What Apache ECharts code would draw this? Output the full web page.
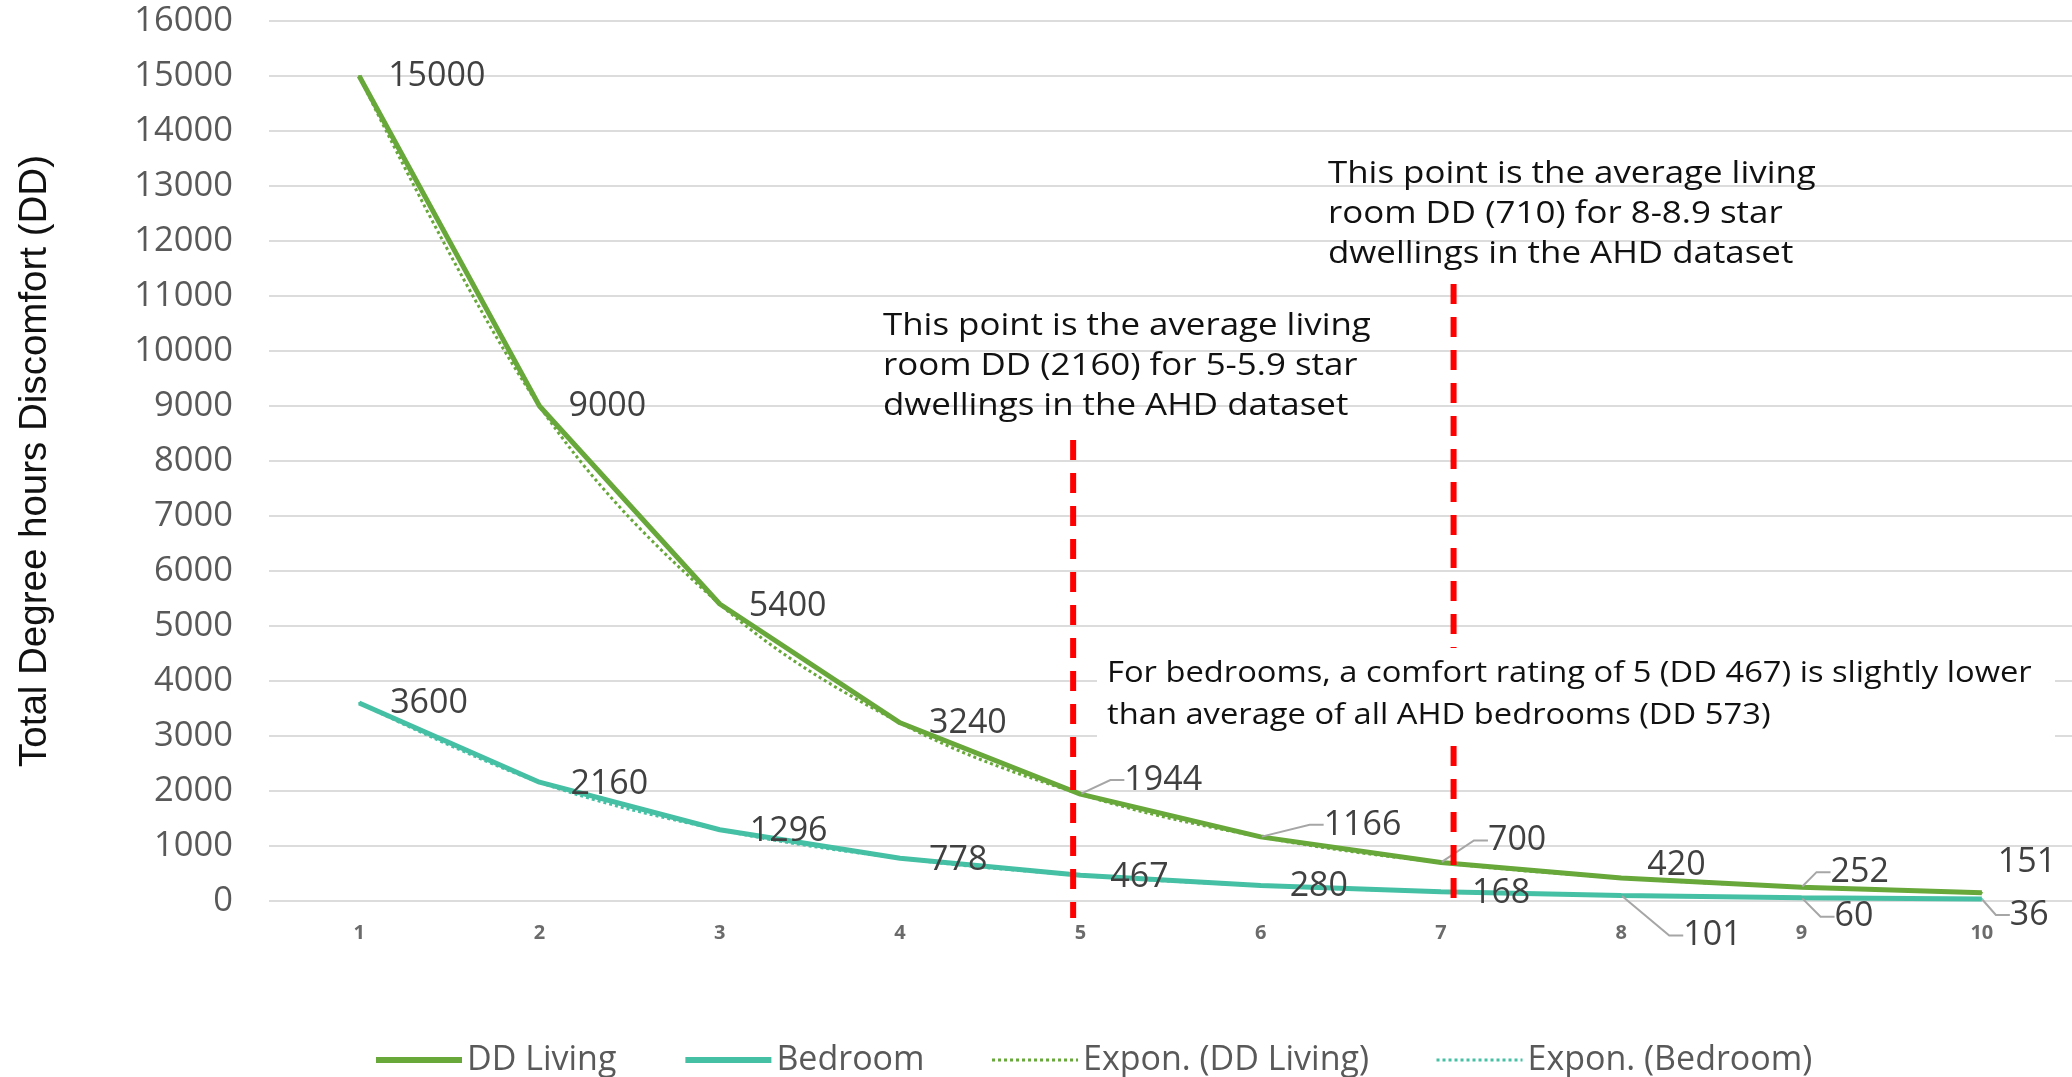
<!DOCTYPE html>
<html>
<head>
<meta charset="utf-8">
<title>Degree hours discomfort</title>
<script src="https://cdn.jsdelivr.net/npm/echarts@6/dist/echarts.min.js"></script>
<style>
  html, body { margin: 0; padding: 0; background: #fff; }
  #chart { width: 2072px; height: 1077px; }
</style>
</head>
<body>
<div id="chart"></div>
<script>
// star rating categories
const categories = ["1", "2", "3", "4", "5", "6", "7", "8", "9", "10"];
// total degree hours discomfort
const ddLiving = [15000, 9000, 5400, 3240, 1944, 1166, 700, 420, 252, 151];
const bedroom = [3600, 2160, 1296, 778, 467, 280, 168, 101, 60, 36];
// y axis
const yMin = 0;
const yMax = 16000;
const yStep = 1000;
// red reference lines (x in rating units, y extent in DD)
const refLineX = [4.96, 7.07];
const refLineTop = [8380, 11220];
const refLineBottom = [-310, -150];

const noteA = "This point is the average living\nroom DD (2160) for 5-5.9 star\ndwellings in the AHD dataset";
const noteB = "This point is the average living\nroom DD (710) for 8-8.9 star\ndwellings in the AHD dataset";
const noteC = "For bedrooms, a comfort rating of 5 (DD 467) is slightly lower\nthan average of all AHD bedrooms (DD 573)";

// label nudges (px) and which labels get a leader line
const livingShift = [[0, 0], [0, 0], [0, 2], [0, 1], [7, -14], [26, -12], [10, -22], [-3, -13], [-8, -15], [-13, -30]];
const livingLeader = [4, 5, 6, 8];
const bedroomShift = [[2, 0], [2, 2], [1, 2], [0, 2], [1, 2], [0, 1], [2, 2], [25, 40], [-4, 19], [-9, 16]];
const bedroomLeader = [7, 8, 9];

const GREEN = "#68a83b";
const TEAL = "#45c0a4";
const FONT = "Open Sans";

// items with a leader line get a little gap between line and text
function withLeaders(values, leaders) {
  return values.map((v, i) => {
    if (leaders.indexOf(i) < 0) return v;
    return { value: v, labelLine: { show: true }, label: { padding: [0, 0, 0, 8] } };
  });
}

const myChart = echarts.init(document.getElementById("chart"));

const dataLabel = {
  show: true,
  position: "right",
  distance: 28,
  fontFamily: FONT,
  fontSize: 34,
  color: "#404040"
};
const leaderLine = {
  show: false,
  length2: 14,
  lineStyle: { color: "#a6a6a6", width: 2 }
};

// red dashed reference lines, drawn on the hidden value x axis
const refSeries = refLineX.map((x, i) => {
  return {
    name: "ref" + i,
    type: "line",
    xAxisIndex: 1,
    data: [[x, refLineTop[i]], [x, refLineBottom[i]]],
    clip: false,
    silent: true,
    symbol: "none",
    z: 4,
    lineStyle: { color: "#ff0000", width: 6, type: [20, 13] }
  };
});

let option = {
  animation: false,
  backgroundColor: "#fff",
  grid: {
    left: 269,
    right: 0,
    top: 21,
    bottom: 176,
    containLabel: false
  },
  legend: {
    left: 368,
    top: 1038,
    itemWidth: 86,
    itemHeight: 14,
    itemGap: 66,
    itemStyle: { opacity: 0 },
    textStyle: {
      fontFamily: FONT,
      fontSize: 34,
      color: "#595959"
    },
    data: [
      { name: "DD Living", lineStyle: { width: 6 } },
      { name: "Bedroom", lineStyle: { width: 6 } },
      { name: "Expon. (DD Living)", lineStyle: { width: 3 } },
      { name: "Expon. (Bedroom)", lineStyle: { width: 3 } }
    ]
  },
  xAxis: [
    {
      type: "category",
      data: categories,
      boundaryGap: true,
      axisLine: { show: false },
      axisTick: { show: false },
      axisLabel: {
        margin: 22,
        fontFamily: FONT,
        fontSize: 20,
        fontWeight: "bold",
        color: "#6b6b6b"
      }
    },
    {
      type: "value",
      min: 0.5,
      max: 10.5,
      show: false
    }
  ],
  yAxis: {
    type: "value",
    min: yMin,
    max: yMax,
    interval: yStep,
    name: "Total Degree hours Discomfort (DD)",
    nameLocation: "middle",
    nameRotate: 90,
    nameGap: 214,
    nameTextStyle: {
      fontFamily: "Liberation Sans",
      fontSize: 38.5,
      color: "#111"
    },
    axisLine: { show: false },
    axisTick: { show: false },
    axisLabel: {
      margin: 36,
      fontFamily: FONT,
      fontSize: 34.5,
      color: "#595959",
      formatter: function(v) {
        return String(v);
      }
    },
    splitLine: {
      lineStyle: { color: "#dcdcdc", width: 2 }
    }
  },
  graphic: [
    {
      type: "text",
      x: 883,
      y: 306,
      scaleX: 1.125,
      z: 100,
      style: { text: noteA, fontFamily: FONT, fontSize: 31, lineHeight: 40, fill: "#111" }
    },
    {
      type: "text",
      x: 1328,
      y: 154,
      scaleX: 1.125,
      z: 100,
      style: { text: noteB, fontFamily: FONT, fontSize: 31, lineHeight: 40, fill: "#111" }
    },
    {
      type: "rect",
      x: 1097,
      y: 648,
      z: 100,
      shape: { x: 0, y: 0, width: 958, height: 92 },
      style: { fill: "#fff" }
    },
    {
      type: "text",
      x: 1107,
      y: 652,
      scaleX: 1.09,
      z: 101,
      style: { text: noteC, fontFamily: FONT, fontSize: 30, lineHeight: 42, fill: "#111" }
    }
  ],
  series: [
    {
      name: "Expon. (DD Living)",
      type: "line",
      data: ddLiving,
      smooth: 0.35,
      symbol: "none",
      z: 1,
      lineStyle: { color: GREEN, width: 3, type: "dotted" },
      itemStyle: { color: GREEN }
    },
    {
      name: "Expon. (Bedroom)",
      type: "line",
      data: bedroom,
      smooth: 0.35,
      symbol: "none",
      z: 1,
      lineStyle: { color: TEAL, width: 3, type: "dotted" },
      itemStyle: { color: TEAL }
    },
    {
      name: "DD Living",
      type: "line",
      data: withLeaders(ddLiving, livingLeader),
      symbol: "circle",
      symbolSize: 2,
      showSymbol: true,
      z: 3,
      lineStyle: { color: GREEN, width: 5 },
      itemStyle: { color: GREEN },
      label: dataLabel,
      labelLine: leaderLine,
      labelLayout: function(params) {
        let s = livingShift[params.dataIndex] || [0, 0];
        return { dx: s[0], dy: s[1] };
      },
      emphasis: { disabled: true }
    },
    {
      name: "Bedroom",
      type: "line",
      data: withLeaders(bedroom, bedroomLeader),
      symbol: "circle",
      symbolSize: 2,
      showSymbol: true,
      z: 3,
      lineStyle: { color: TEAL, width: 5 },
      itemStyle: { color: TEAL },
      label: dataLabel,
      labelLine: leaderLine,
      labelLayout: function(params) {
        let s = bedroomShift[params.dataIndex] || [0, 0];
        return { dx: s[0], dy: s[1] };
      },
      emphasis: { disabled: true }
    }
  ].concat(refSeries)
};

myChart.setOption(option);
</script>
</body>
</html>
